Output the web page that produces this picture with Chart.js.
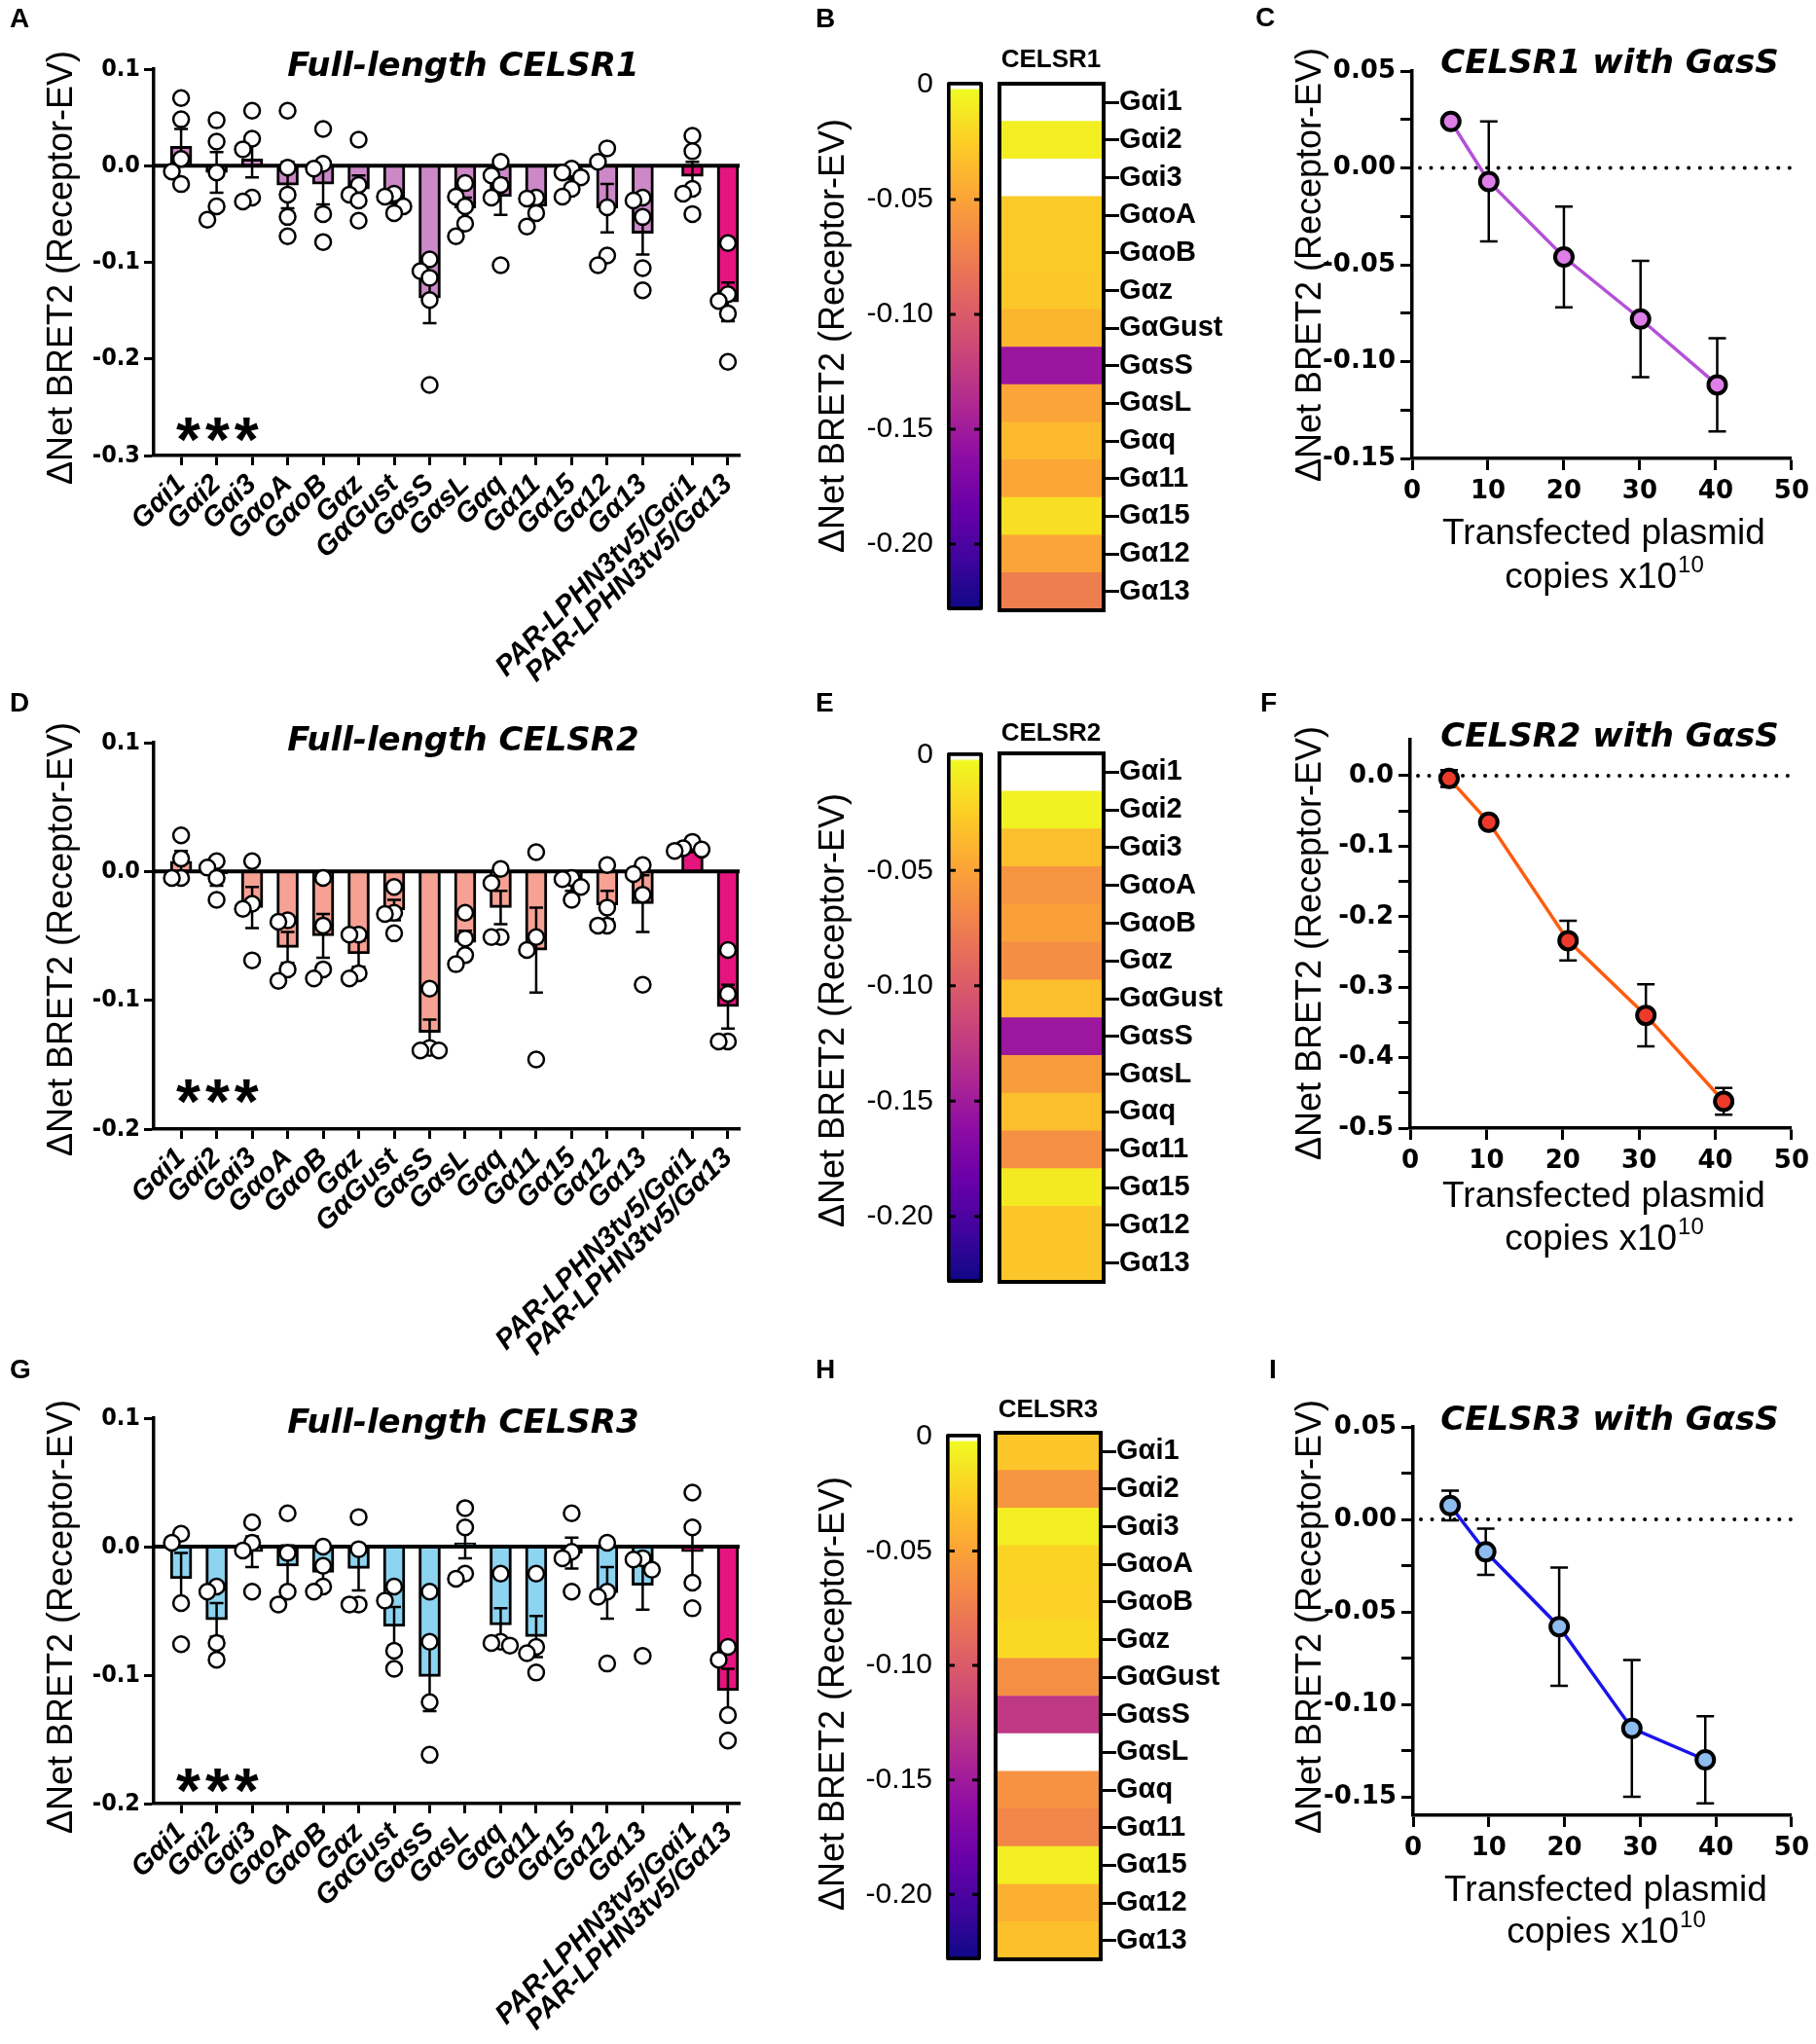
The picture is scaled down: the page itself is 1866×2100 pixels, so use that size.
<!DOCTYPE html>
<html>
<head>
<meta charset="utf-8">
<script src="https://cdn.jsdelivr.net/npm/chart.js@4.4.1/dist/chart.umd.min.js"></script>
<style>
html, body { margin: 0; padding: 0; background: #fff; }
body { width: 1866px; height: 2100px; position: relative; overflow: hidden; }
.panel { position: absolute; }
</style>
</head>
<body>
<script>
// ---------- data ----------
var gProteins = ['Gαi1', 'Gαi2', 'Gαi3', 'GαoA', 'GαoB', 'Gαz', 'GαGust', 'GαsS', 'GαsL', 'Gαq', 'Gα11', 'Gα15', 'Gα12', 'Gα13'];
var barLabels = gProteins.concat(['PAR-LPHN3tv5/Gαi1', 'PAR-LPHN3tv5/Gα13']);

var celsr1Mean = [0.020, -0.007, 0.007, -0.020, -0.019, -0.024, -0.034, -0.137, -0.044, -0.032, -0.042, -0.015, -0.044, -0.070, -0.011, -0.141];
var celsr1Sem = [0.018, 0.021, 0.019, 0.024, 0.021, 0.014, 0.005, 0.026, 0.011, 0.019, 0.007, 0.006, 0.025, 0.022, 0.015, 0.020];
var celsr1Dots = [
  [0.070, 0.048, 0.007, -0.006, -0.019],
  [0.047, 0.025, -0.007, -0.042, -0.056],
  [0.057, 0.028, 0.017, -0.033, -0.037],
  [0.057, -0.002, -0.030, -0.053, -0.073],
  [0.038, 0.002, -0.003, -0.050, -0.079],
  [0.027, -0.020, -0.030, -0.036, -0.057],
  [-0.029, -0.032, -0.042, -0.049],
  [-0.097, -0.109, -0.116, -0.139, -0.227],
  [-0.018, -0.032, -0.042, -0.060, -0.073],
  [0.004, -0.010, -0.020, -0.033, -0.103],
  [-0.033, -0.034, -0.049, -0.063],
  [-0.003, -0.007, -0.012, -0.024, -0.032],
  [0.018, 0.004, -0.043, -0.093, -0.103],
  [-0.033, -0.036, -0.053, -0.106, -0.129],
  [0.031, 0.015, -0.024, -0.029, -0.050],
  [-0.080, -0.133, -0.140, -0.153, -0.203]
];

var celsr2Mean = [0.008, -0.002, -0.028, -0.059, -0.050, -0.064, -0.030, -0.125, -0.055, -0.028, -0.061, -0.011, -0.026, -0.025, 0.017, -0.105];
var celsr2Sem = [0.008, 0.009, 0.016, 0.012, 0.017, 0.010, 0.008, 0.010, 0.009, 0.013, 0.033, 0.004, 0.011, 0.022, 0.002, 0.017];
var celsr2Dots = [
  [0.028, 0.010, -0.005, -0.005],
  [0.008, 0.003, -0.005, -0.022],
  [0.008, -0.025, -0.029, -0.069],
  [-0.038, -0.039, -0.076, -0.085],
  [-0.005, -0.042, -0.076, -0.083],
  [-0.049, -0.049, -0.079, -0.083],
  [-0.012, -0.032, -0.033, -0.048],
  [-0.091, -0.137, -0.139, -0.139],
  [-0.032, -0.052, -0.065, -0.072],
  [0.002, -0.009, -0.051, -0.051],
  [0.015, -0.051, -0.061, -0.146],
  [-0.005, -0.006, -0.012, -0.022],
  [0.005, -0.028, -0.042, -0.042],
  [0.005, -0.002, -0.018, -0.088],
  [0.023, 0.018, 0.017, 0.016],
  [-0.061, -0.095, -0.132, -0.132]
];

var celsr3Mean = [-0.025, -0.057, -0.004, -0.015, -0.020, -0.017, -0.062, -0.101, 0.003, -0.061, -0.070, -0.005, -0.036, -0.030, -0.004, -0.112];
var celsr3Sem = [0.020, 0.013, 0.012, 0.016, 0.008, 0.017, 0.015, 0.027, 0.012, 0.013, 0.016, 0.012, 0.020, 0.019, 0.021, 0.017];
var celsr3Dots = [
  [0.010, 0.003, -0.044, -0.076],
  [-0.031, -0.035, -0.075, -0.088],
  [0.019, 0.003, -0.003, -0.035],
  [0.026, -0.005, -0.035, -0.045],
  [0.000, -0.015, -0.031, -0.035],
  [0.023, -0.002, -0.045, -0.045],
  [-0.031, -0.042, -0.081, -0.095],
  [-0.035, -0.074, -0.121, -0.162],
  [0.030, 0.015, -0.021, -0.025],
  [-0.021, -0.074, -0.075, -0.077],
  [-0.021, -0.078, -0.083, -0.098],
  [0.026, -0.004, -0.009, -0.035],
  [0.003, -0.035, -0.039, -0.091],
  [-0.009, -0.010, -0.018, -0.085],
  [0.042, 0.015, -0.028, -0.048],
  [-0.078, -0.088, -0.131, -0.151]
];

// heat map cells (positive = white)
var heat1 = [0.020, -0.006, 0.007, -0.025, -0.025, -0.027, -0.037, -0.153, -0.047, -0.035, -0.046, -0.014, -0.047, -0.073];
var heat2 = [0.008, -0.004, -0.032, -0.058, -0.050, -0.062, -0.032, -0.152, -0.052, -0.032, -0.061, -0.008, -0.028, -0.028];
var heat3 = [-0.028, -0.057, -0.006, -0.020, -0.021, -0.017, -0.061, -0.126, 0.003, -0.059, -0.068, -0.006, -0.040, -0.031];
var colorTicks = [0, -0.05, -0.10, -0.15, -0.20];

// dose response with GαsS
var copies1 = [5.1, 10.1, 20.0, 30.1, 40.2];
var resp1 = [0.024, -0.007, -0.046, -0.078, -0.112];
var sem1 = [0, 0.031, 0.026, 0.030, 0.024];
var copies2 = [5.1, 10.3, 20.7, 30.9, 41.1];
var resp2 = [-0.004, -0.066, -0.234, -0.340, -0.462];
var sem2 = [0.012, 0.004, 0.028, 0.044, 0.019];
var copies3 = [4.9, 9.6, 19.3, 28.9, 38.6];
var resp3 = [0.0075, -0.0175, -0.058, -0.113, -0.130];
var sem3 = [0.008, 0.0125, 0.032, 0.037, 0.0235];
var copyTicks = [0, 10, 20, 30, 40, 50];

// ---------- style ----------
var FONT = "'Liberation Sans', Arial, sans-serif";
var WIDE = "'DejaVu Sans', sans-serif";
var COND = "'DejaVu Sans Condensed', 'Liberation Sans Narrow', 'Liberation Sans', sans-serif";
var magenta = '#e6147f';
var yTitle = 'ΔNet BRET2 (Receptor-EV)';
var plasma = ['#0d0887', '#41049d', '#6a00a8', '#8f0da4', '#b12a90', '#cc4778', '#e16462', '#f2844b', '#fca636', '#fcce25', '#f0f921'];
var colorMin = -0.2288, colorMax = 0, cbTop = 0.0012;

Chart.defaults.color = '#000';
Chart.defaults.font.family = FONT;

function rgb(h) {
  return [parseInt(h.substr(1, 2), 16), parseInt(h.substr(3, 2), 16), parseInt(h.substr(5, 2), 16)];
}
function heatColor(v) {
  if (v > colorMax) return '#ffffff';
  var t = Math.max(0, Math.min(1, (v - colorMin) / (colorMax - colorMin)));
  var p = t * 10, i = Math.min(9, Math.floor(p)), f = p - i;
  var a = rgb(plasma[i]), b = rgb(plasma[i + 1]);
  return 'rgb(' + [0, 1, 2].map(function (k) { return Math.round(a[k] + (b[k] - a[k]) * f); }).join(',') + ')';
}

// spread overlapping dots sideways, like a dot plot
function spread(vals, gap) {
  var placed = [], cands = [0, -0.26, 0.26, -0.5, 0.5];
  return vals.map(function (v) {
    var o = cands.find(function (c) {
      return placed.every(function (p) { return Math.abs(p.v - v) >= gap || Math.abs(p.o - c) >= 0.24; });
    });
    if (o === undefined) o = 0;
    placed.push({ v: v, o: o });
    return o;
  });
}

function fixW(w) { return function (s) { s.width = w; }; }
function fixH(h) { return function (s) { s.height = h; }; }

function textPlugin(items, left, top) {
  return {
    id: 'panelText',
    afterDraw: function (chart) {
      var ctx = chart.ctx;
      items.forEach(function (t) {
        ctx.save();
        ctx.fillStyle = '#000';
        ctx.font = t.font;
        ctx.textAlign = t.align || 'center';
        ctx.textBaseline = t.base || 'middle';
        if (t.spacing) ctx.letterSpacing = t.spacing;
        ctx.translate(t.x - left, t.y - top);
        if (t.rot) ctx.rotate(t.rot * Math.PI / 180);
        if (t.sup) {
          var w1 = ctx.measureText(t.text).width;
          ctx.font = t.supFont;
          var w2 = ctx.measureText(t.sup).width;
          ctx.textAlign = 'left';
          ctx.fillText(t.sup, -(w1 + w2) / 2 + w1 + 1, -t.supRise);
          ctx.font = t.font;
          ctx.fillText(t.text, -(w1 + w2) / 2, 0);
        } else {
          ctx.fillText(t.text, 0, 0);
        }
        ctx.restore();
      });
    }
  };
}

function errorPlugin(index, xs, means, sems, opt) {
  var hook = opt.before ? 'beforeDatasetDraw' : 'afterDatasetDraw';
  var p = { id: 'errBars' };
  p[hook] = function (chart, args) {
    if (args.index !== index) return;
    var ctx = chart.ctx, xS = chart.scales.x, yS = chart.scales.y, a = chart.chartArea;
    ctx.save();
    ctx.strokeStyle = '#000';
    if (opt.zero) {
      ctx.lineWidth = 4;
      ctx.beginPath();
      ctx.moveTo(a.left, yS.getPixelForValue(0));
      ctx.lineTo(a.right, yS.getPixelForValue(0));
      ctx.stroke();
    }
    ctx.lineWidth = opt.width;
    xs.forEach(function (xv, i) {
      if (!sems[i]) return;
      var px = xS.getPixelForValue(xv);
      var y1 = yS.getPixelForValue(means[i] + sems[i]);
      var y2 = yS.getPixelForValue(means[i] - sems[i]);
      ctx.beginPath();
      ctx.moveTo(px, y1); ctx.lineTo(px, y2);
      ctx.moveTo(px - opt.cap, y1); ctx.lineTo(px + opt.cap, y1);
      ctx.moveTo(px - opt.cap, y2); ctx.lineTo(px + opt.cap, y2);
      ctx.stroke();
    });
    ctx.restore();
  };
  return p;
}

var dottedZero = {
  id: 'dottedZero',
  beforeDatasetsDraw: function (chart) {
    var ctx = chart.ctx, xS = chart.scales.x, y = chart.scales.y.getPixelForValue(0);
    ctx.save();
    ctx.strokeStyle = '#000';
    ctx.lineWidth = 4;
    ctx.lineCap = 'round';
    ctx.setLineDash([0.01, 11.5]);
    ctx.beginPath();
    ctx.moveTo(xS.getPixelForValue(0) + 8, y);
    ctx.lineTo(xS.getPixelForValue(50), y);
    ctx.stroke();
    ctx.restore();
  }
};

var framePlugin = {
  id: 'frame',
  afterDatasetsDraw: function (chart) {
    var a = chart.chartArea, ctx = chart.ctx;
    ctx.save();
    ctx.lineWidth = 4;
    ctx.strokeStyle = '#000';
    ctx.strokeRect(a.left, a.top, a.right - a.left, a.bottom - a.top);
    ctx.restore();
  }
};

var cbTickPlugin = {
  id: 'cbTicks',
  afterDatasetsDraw: function (chart) {
    var a = chart.chartArea, yS = chart.scales.y, ctx = chart.ctx;
    ctx.save();
    ctx.strokeStyle = '#000';
    ctx.lineWidth = 3;
    yS.ticks.forEach(function (t) {
      if (t.value === 0) return;
      var y = yS.getPixelForValue(t.value);
      ctx.beginPath();
      ctx.moveTo(a.left, y); ctx.lineTo(a.left + 9, y);
      ctx.moveTo(a.right - 9, y); ctx.lineTo(a.right, y);
      ctx.stroke();
    });
    ctx.restore();
  }
};

function makeChart(box, config) {
  var div = document.createElement('div');
  div.className = 'panel';
  div.style.left = box[0] + 'px';
  div.style.top = box[1] + 'px';
  div.style.width = box[2] + 'px';
  div.style.height = box[3] + 'px';
  var cv = document.createElement('canvas');
  div.appendChild(cv);
  document.body.appendChild(div);
  var o = config.options;
  o.responsive = true;
  o.maintainAspectRatio = false;
  o.animation = false;
  o.devicePixelRatio = 1;
  o.plugins = { legend: { display: false }, tooltip: { enabled: false } };
  return new Chart(cv, config);
}

// ---------- bar panels (A, D, G) ----------
function barPanel(means, sems, dots, fill, yMin, yMax, box, area, texts) {
  var xs = means.map(function (m, i) { return i < 14 ? i : i + 0.4; });
  var pxPerUnit = (area[3] - area[1]) / (yMax - yMin);
  var dotData = [];
  dots.forEach(function (vals, i) {
    var offs = spread(vals, 15 / pxPerUnit);
    vals.forEach(function (v, j) { dotData.push({ x: xs[i] + offs[j], y: v }); });
  });
  makeChart(box, {
    type: 'bar',
    data: {
      datasets: [
        { type: 'scatter', data: dotData, order: 0, pointRadius: 8, pointBackgroundColor: '#fff', pointBorderColor: '#000', pointBorderWidth: 2.5 },
        {
          type: 'bar', order: 1,
          data: means.map(function (m, i) { return { x: xs[i], y: m }; }),
          backgroundColor: means.map(function (m, i) { return i < 14 ? fill : magenta; }),
          borderColor: '#000', borderWidth: 3, barThickness: 22, borderSkipped: 'start'
        }
      ]
    },
    options: {
      layout: { padding: { top: area[1] - box[1], right: box[0] + box[2] - area[2], left: 0, bottom: 0 } },
      scales: {
        x: {
          type: 'linear', min: -0.77, max: 15.73, offset: false,
          afterBuildTicks: function (s) { s.ticks = xs.map(function (v) { return { value: v }; }); },
          afterFit: fixH(box[1] + box[3] - area[3]),
          ticks: {
            autoSkip: false, minRotation: 45, maxRotation: 45, padding: 3, color: '#000',
            font: { family: FONT, size: 29, weight: 'bold', style: 'italic' },
            callback: function (v, i) { return barLabels[i]; }
          },
          grid: { drawOnChartArea: false, offset: false, tickLength: 10, tickWidth: 3, tickColor: '#000' },
          border: { color: '#000', width: 3.5 }
        },
        y: {
          min: yMin, max: yMax,
          afterBuildTicks: function (s) {
            var t = [];
            for (var k = Math.round(yMax * 10); k >= Math.round(yMin * 10); k--) t.push({ value: k / 10 });
            s.ticks = t;
          },
          afterFit: fixW(area[0] - box[0]),
          ticks: {
            padding: 4, color: '#000',
            font: { family: COND, size: 25, weight: 'bold' },
            callback: function (v) { return (Math.abs(v) < 1e-9 ? 0 : v).toFixed(1); }
          },
          grid: { drawOnChartArea: false, tickLength: 10, tickWidth: 3, tickColor: '#000' },
          border: { color: '#000', width: 3.5 }
        }
      }
    },
    plugins: [errorPlugin(1, xs, means, sems, { width: 2.5, cap: 7, zero: true }), textPlugin(texts, box[0], box[1])]
  });
}

// ---------- heat map panels (B, E, H) ----------
function cbGradient(context) {
  var chart = context.chart, yS = chart.scales.y;
  if (!chart.chartArea || !yS) return plasma[9];
  var top = yS.getPixelForValue(cbTop), bot = yS.getPixelForValue(colorMin);
  var g = chart.ctx.createLinearGradient(0, top, 0, bot);
  g.addColorStop(0, '#ffffff');
  g.addColorStop(0.012, '#ffffff');
  plasma.forEach(function (c, k) { g.addColorStop(0.016 + (1 - k / 10) * 0.984, c); });
  return g;
}

function heatPanel(values, cbBox, cbArea, hBox, hArea, cbTexts, hTexts) {
  makeChart(cbBox, {
    type: 'bar',
    data: {
      labels: [''],
      datasets: [{
        data: [[colorMin, cbTop]], backgroundColor: cbGradient, borderColor: '#000', borderWidth: 4,
        borderSkipped: false, borderRadius: 3, barPercentage: 1, categoryPercentage: 1
      }]
    },
    options: {
      layout: { padding: { top: cbArea[1] - cbBox[1], right: cbBox[0] + cbBox[2] - cbArea[2], bottom: cbBox[1] + cbBox[3] - cbArea[3], left: 0 } },
      scales: {
        x: { display: false },
        y: {
          min: colorMin, max: cbTop,
          afterBuildTicks: function (s) { s.ticks = colorTicks.map(function (v) { return { value: v }; }); },
          afterFit: fixW(cbArea[0] - cbBox[0]),
          ticks: {
            padding: 14, color: '#000', font: { family: FONT, size: 30 },
            callback: function (v) { return v === 0 ? '0' : v.toFixed(2); }
          },
          grid: { display: false, drawTicks: false },
          border: { display: false }
        }
      }
    },
    plugins: [cbTickPlugin, textPlugin(cbTexts, cbBox[0], cbBox[1])]
  });

  makeChart(hBox, {
    type: 'bar',
    data: {
      labels: gProteins,
      datasets: [{
        data: values.map(function () { return 1; }),
        backgroundColor: values.map(heatColor),
        borderWidth: 0, barPercentage: 1, categoryPercentage: 1
      }]
    },
    options: {
      indexAxis: 'y',
      layout: { padding: { top: hArea[1] - hBox[1], left: hArea[0] - hBox[0], bottom: hBox[1] + hBox[3] - hArea[3], right: 0 } },
      scales: {
        x: { display: false, min: 0, max: 1 },
        y: {
          type: 'category', position: 'right',
          afterFit: fixW(hBox[0] + hBox[2] - hArea[2]),
          ticks: { padding: 0, color: '#000', font: { family: FONT, size: 29, weight: 'bold' } },
          grid: { drawOnChartArea: false, offset: false, tickLength: 16, tickWidth: 3, tickColor: '#000' },
          border: { display: false }
        }
      }
    },
    plugins: [framePlugin, textPlugin(hTexts, hBox[0], hBox[1])]
  });
}

// ---------- dose response panels (C, F, I) ----------
function linePanel(p) {
  var nMinor = Math.round((p.tickHi - p.tickLo) / p.minor);
  makeChart(p.box, {
    type: 'scatter',
    data: {
      datasets: [{
        data: p.x.map(function (v, i) { return { x: v, y: p.y[i] }; }),
        showLine: true, borderColor: p.line, borderWidth: 3.5,
        pointRadius: 9, pointBackgroundColor: p.fill, pointBorderColor: '#000', pointBorderWidth: 4
      }]
    },
    options: {
      layout: { padding: { top: p.area[1] - p.box[1], right: p.box[0] + p.box[2] - p.area[2], left: 0, bottom: 0 } },
      scales: {
        x: {
          min: 0, max: 50,
          afterBuildTicks: function (s) { s.ticks = copyTicks.map(function (v) { return { value: v }; }); },
          afterFit: fixH(p.box[1] + p.box[3] - p.area[3]),
          ticks: { padding: 7, color: '#000', font: { family: WIDE, size: 26, weight: 'bold' } },
          grid: { drawOnChartArea: false, tickLength: 12, tickWidth: 3, tickColor: '#000' },
          border: { color: '#000', width: 3.5 }
        },
        y: {
          min: p.yMin, max: p.yMax,
          afterBuildTicks: function (s) {
            var t = [];
            for (var k = 0; k <= nMinor; k++) t.push({ value: +(p.tickLo + k * p.minor).toFixed(4) });
            s.ticks = t;
          },
          afterFit: fixW(p.area[0] - p.box[0]),
          ticks: {
            padding: 5, color: '#000', font: { family: WIDE, size: 26, weight: 'bold' },
            callback: function (v) {
              var r = v / p.major;
              return Math.abs(r - Math.round(r)) < 1e-6 ? (Math.abs(v) < 1e-9 ? 0 : v).toFixed(p.digits) : '';
            }
          },
          grid: { drawOnChartArea: false, tickLength: 12, tickWidth: 3, tickColor: '#000' },
          border: { color: '#000', width: 3.5 }
        }
      }
    },
    plugins: [dottedZero, errorPlugin(0, p.x, p.y, p.sem, { width: 2.5, cap: 9, before: true }), textPlugin(p.texts, p.box[0], p.box[1])]
  });
}

var LETTER = 'bold 28px ' + FONT;
var BARTITLE = 'italic bold 34px ' + WIDE;
var LINETITLE = 'italic bold 34px ' + WIDE;
var YT = '36px ' + FONT;
var XT = '37px ' + FONT;
var STARS = 'bold 64px ' + FONT;

function xTitle(x, y1, y2) {
  return [
    { text: 'Transfected plasmid', x: x, y: y1, font: XT },
    { text: 'copies x10', sup: '10', x: x, y: y2, font: XT, supFont: '24px ' + FONT, supRise: 13 }
  ];
}

// A, D, G
barPanel(celsr1Mean, celsr1Sem, celsr1Dots, '#cd88c7', -0.3, 0.1, [0, 0, 800, 720], [158, 71, 760, 468], [
  { text: 'A', x: 10, y: 20, font: LETTER, align: 'left' },
  { text: 'Full-length CELSR1', x: 476, y: 69, font: BARTITLE },
  { text: yTitle, x: 64, y: 275, font: YT, rot: -90 },
  { text: '***', x: 181, y: 474, font: STARS, align: 'left', base: 'alphabetic', spacing: '5px' }
]);
barPanel(celsr2Mean, celsr2Sem, celsr2Dots, '#f6a194', -0.2, 0.1, [0, 700, 800, 715], [158, 763, 760, 1160], [
  { text: 'D', x: 10, y: 723, font: LETTER, align: 'left' },
  { text: 'Full-length CELSR2', x: 476, y: 762, font: BARTITLE },
  { text: yTitle, x: 64, y: 965, font: YT, rot: -90 },
  { text: '***', x: 181, y: 1154, font: STARS, align: 'left', base: 'alphabetic', spacing: '5px' }
]);
barPanel(celsr3Mean, celsr3Sem, celsr3Dots, '#8dd4f0', -0.2, 0.1, [0, 1380, 800, 720], [158, 1457, 760, 1853], [
  { text: 'G', x: 10, y: 1408, font: LETTER, align: 'left' },
  { text: 'Full-length CELSR3', x: 476, y: 1463, font: BARTITLE },
  { text: yTitle, x: 64, y: 1661, font: YT, rot: -90 },
  { text: '***', x: 181, y: 1862, font: STARS, align: 'left', base: 'alphabetic', spacing: '5px' }
]);

// B, E, H
heatPanel(heat1, [830, 0, 190, 660], [973, 84, 1010, 627], [1015, 0, 300, 660], [1027, 86, 1134, 627],
  [{ text: 'B', x: 838, y: 20, font: LETTER, align: 'left' }, { text: yTitle, x: 857, y: 345, font: YT, rot: -90 }],
  [{ text: 'CELSR1', x: 1080, y: 62, font: 'bold 26px ' + FONT }]);
heatPanel(heat2, [830, 700, 190, 660], [973, 773, 1010, 1318], [1015, 700, 300, 660], [1027, 774, 1134, 1317],
  [{ text: 'E', x: 838, y: 723, font: LETTER, align: 'left' }, { text: yTitle, x: 857, y: 1038, font: YT, rot: -90 }],
  [{ text: 'CELSR2', x: 1080, y: 754, font: 'bold 26px ' + FONT }]);
heatPanel(heat3, [830, 1380, 190, 680], [972, 1473, 1008, 2014], [1015, 1380, 300, 680], [1023, 1472, 1131, 2013],
  [{ text: 'H', x: 838, y: 1408, font: LETTER, align: 'left' }, { text: yTitle, x: 857, y: 1740, font: YT, rot: -90 }],
  [{ text: 'CELSR3', x: 1077, y: 1449, font: 'bold 26px ' + FONT }]);

// C, F, I
linePanel({
  x: copies1, y: resp1, sem: sem1, line: '#b550d8', fill: '#de7ee8',
  yMin: -0.15, yMax: 0.05, tickLo: -0.15, tickHi: 0.05, minor: 0.025, major: 0.05, digits: 2,
  box: [1280, 0, 586, 640], area: [1451, 73, 1849, 471],
  texts: [
    { text: 'C', x: 1290, y: 19, font: LETTER, align: 'left' },
    { text: 'CELSR1 with GαsS', x: 1654, y: 66, font: LINETITLE },
    { text: yTitle, x: 1347, y: 272, font: YT, rot: -90 }
  ].concat(xTitle(1648, 549, 594))
});
linePanel({
  x: copies2, y: resp2, sem: sem2, line: '#ff5b0f', fill: '#ee3a2a',
  yMin: -0.5, yMax: 0.051, tickLo: -0.5, tickHi: 0.0, minor: 0.05, major: 0.1, digits: 1,
  box: [1280, 700, 586, 640], area: [1449, 760, 1847, 1159],
  texts: [
    { text: 'F', x: 1295, y: 723, font: LETTER, align: 'left' },
    { text: 'CELSR2 with GαsS', x: 1654, y: 758, font: LINETITLE },
    { text: yTitle, x: 1347, y: 969, font: YT, rot: -90 }
  ].concat(xTitle(1648, 1230, 1274))
});
linePanel({
  x: copies3, y: resp3, sem: sem3, line: '#1a14e8', fill: '#8ebcf0',
  yMin: -0.16, yMax: 0.05, tickLo: -0.15, tickHi: 0.05, minor: 0.025, major: 0.05, digits: 2,
  box: [1280, 1380, 586, 660], area: [1452, 1466, 1851, 1865],
  texts: [
    { text: 'I', x: 1304, y: 1408, font: LETTER, align: 'left' },
    { text: 'CELSR3 with GαsS', x: 1654, y: 1460, font: LINETITLE },
    { text: yTitle, x: 1347, y: 1661, font: YT, rot: -90 }
  ].concat(xTitle(1650, 1943, 1986))
});
</script>
</body>
</html>
